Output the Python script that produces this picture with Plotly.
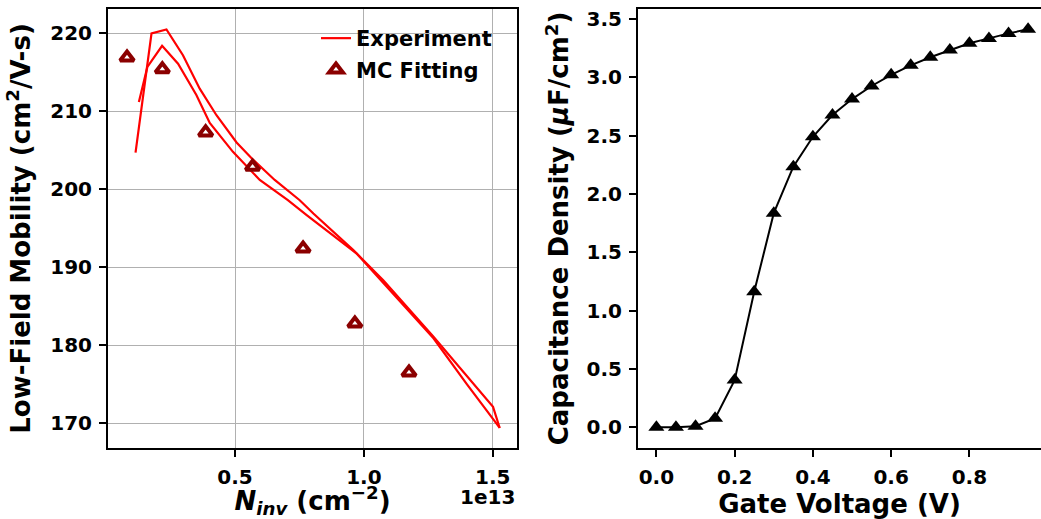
import plotly.graph_objects as go

# ---- Left panel data (Ninv in cm^-2, mobility in cm^2/V-s) ----
exp_n_a = [0.114e13, 0.176e13, 0.234e13, 0.298e13, 0.363e13, 0.428e13, 0.506e13, 0.570e13,
           0.654e13, 0.751e13, 0.804e13, 0.959e13, 1.076e13, 1.270e13, 1.501e13, 1.527e13]
exp_mu_a = [204.7, 220.0, 220.5, 217.2, 212.9, 209.5, 206.0, 203.8,
            201.2, 198.6, 196.9, 192.2, 188.3, 181.1, 172.1, 169.4]
exp_n_b = [0.127e13, 0.160e13, 0.217e13, 0.279e13, 0.350e13, 0.402e13, 0.492e13, 0.596e13,
           0.705e13, 0.778e13, 0.971e13, 1.076e13, 1.270e13, 1.400e13, 1.527e13]
exp_mu_b = [211.2, 215.7, 218.4, 216.1, 212.1, 208.5, 204.8, 201.2,
            198.6, 196.7, 191.8, 188.0, 180.9, 175.0, 169.4]
mc_n = [0.081e13, 0.218e13, 0.386e13, 0.568e13, 0.764e13, 0.965e13, 1.175e13]
mc_mu = [216.9, 215.4, 207.3, 202.9, 192.4, 182.8, 176.5]

# ---- Right panel data ----
gate_v = [0.0, 0.05, 0.1, 0.15, 0.2, 0.25, 0.3, 0.35, 0.4, 0.45,
          0.5, 0.55, 0.6, 0.65, 0.7, 0.75, 0.8, 0.85, 0.9, 0.95]
cap_density = [0.0, 0.0, 0.01, 0.077, 0.405, 1.162, 1.836, 2.234, 2.491, 2.677,
               2.814, 2.926, 3.022, 3.103, 3.172, 3.234, 3.292, 3.334, 3.377, 3.412]

x_ticks_left = [0.5e13, 1.0e13, 1.5e13]
x_ticktext_left = ["0.5", "1.0", "1.5"]

W, H = 1041, 519
FONT = "DejaVu Sans"
tick_font = dict(family=FONT, size=20, color="black", weight="bold")
title_font = dict(family=FONT, size=26, color="black", weight="bold")

fig = go.Figure()
fig.add_trace(go.Scatter(x=exp_n_a, y=exp_mu_a, mode="lines", name="Experiment",
                         line=dict(color="#ff0000", width=2.2), xaxis="x", yaxis="y",
                         legendgroup="exp"))
fig.add_trace(go.Scatter(x=exp_n_b, y=exp_mu_b, mode="lines", name="Experiment",
                         line=dict(color="#ff0000", width=2.2), xaxis="x", yaxis="y",
                         legendgroup="exp", showlegend=False))
fig.add_trace(go.Scatter(x=mc_n, y=mc_mu, mode="markers", name="MC Fitting",
                         marker=dict(symbol="triangle-up", size=12, color="white",
                                     line=dict(color="#8b0000", width=4)),
                         xaxis="x", yaxis="y", legendgroup="mc"))
fig.add_trace(go.Scatter(x=gate_v, y=cap_density, mode="lines+markers", showlegend=False,
                         line=dict(color="black", width=2),
                         marker=dict(symbol="triangle-up", size=14, color="black"),
                         xaxis="x2", yaxis="y2"))

dom_y = [1 - 448 / H, 1 - 9 / H]
common = dict(showline=True, linecolor="black", linewidth=2, ticks="outside",
              ticklen=7, tickwidth=2, tickcolor="black", tickfont=tick_font,
              zeroline=False, ticklabelstandoff=3, automargin=False)

fig.update_layout(
    width=W, height=H,
    margin=dict(l=0, r=0, t=0, b=0, autoexpand=False),
    paper_bgcolor="white", plot_bgcolor="white",
    xaxis=dict(domain=[108 / W, 517 / W], range=[0.0072e13, 1.594e13],
               tickvals=x_ticks_left, ticktext=x_ticktext_left, mirror=True,
               showgrid=True, gridcolor="#b0b0b0", gridwidth=1.2,
               title=dict(text="<i>N</i><sub><i>inv</i></sub> (cm<sup>−2</sup>)",
                          font=title_font, standoff=11),
               anchor="y", **common),
    yaxis=dict(domain=dom_y, range=[166.83, 223.12], dtick=10, tick0=170, mirror=True,
               showgrid=True, gridcolor="#b0b0b0", gridwidth=1.2,
               title=dict(text="Low-Field Mobility (cm<sup>2</sup>/V-s)",
                          font=title_font, standoff=12),
               anchor="x", **common),
    xaxis2=dict(domain=[638 / W, 1.0], range=[-0.047, 0.983], dtick=0.2, tick0=0,
                tickformat=".1f", mirror=True, showgrid=False,
                title=dict(text="Gate Voltage (V)", font=title_font, standoff=8),
                anchor="y2", **common),
    yaxis2=dict(domain=dom_y, range=[-0.177, 3.586], dtick=0.5, tick0=0,
                tickformat=".1f", mirror=False, showgrid=False,
                title=dict(text="Capacitance Density (<i>μ</i>F/cm<sup>2</sup>)",
                           font=title_font, standoff=10),
                anchor="x2", **common),
    legend=dict(x=316 / W, y=1 - 18 / H, xanchor="left", yanchor="top",
                bgcolor="rgba(0,0,0,0)", borderwidth=0,
                font=dict(family=FONT, size=21, color="black", weight="bold"),
                traceorder="grouped", tracegroupgap=1),
    annotations=[dict(text="1e13", x=517 / W, y=1 - 497 / H, xref="paper", yref="paper",
                      xanchor="right", yanchor="middle", showarrow=False,
                      font=dict(family=FONT, size=20, color="black", weight="bold"))],
)

fig.write_html("out.html", config={"displayModeBar": False},
               post_script="document.body.style.margin='0px';")
